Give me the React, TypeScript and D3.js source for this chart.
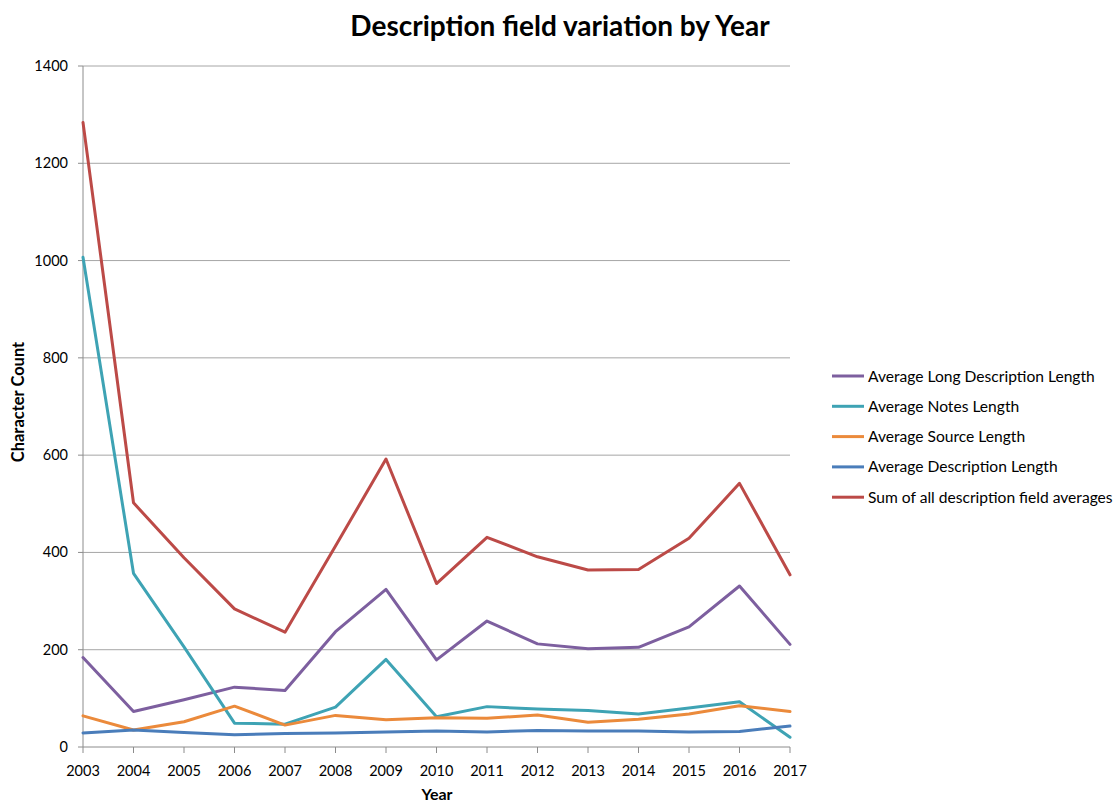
import React, { useEffect } from "react";
import * as d3 from "d3";

const years = [2003, 2004, 2005, 2006, 2007, 2008, 2009, 2010, 2011, 2012, 2013, 2014, 2015, 2016, 2017];
const longDesc = [184, 73, 97, 123, 116, 237, 324, 179, 259, 212, 202, 205, 247, 331, 211];
const notes = [1007, 357, 206, 49, 47, 82, 180, 62, 83, 78, 75, 68, 80, 93, 20];
const source = [64, 35, 52, 84, 45, 65, 56, 60, 59, 66, 51, 57, 68, 85, 73];
const description = [29, 35, 30, 25, 28, 29, 31, 33, 31, 34, 33, 33, 31, 32, 43];
const sumAll = [1284, 502, 389, 284, 236, 413, 592, 336, 431, 391, 364, 365, 429, 542, 354];
const yTicks = [0, 200, 400, 600, 800, 1000, 1200, 1400];

const seriesNames = [
  "Average Long Description Length",
  "Average Notes Length",
  "Average Source Length",
  "Average Description Length",
  "Sum of all description field averages",
];
const seriesValues = [longDesc, notes, source, description, sumAll];
const seriesColors = ["#7D5F9F", "#3EA3B4", "#EB8A3B", "#4A7DBA", "#BC4A47"];

const FONT = "Lato, 'Open Sans', sans-serif";

export default function App() {
  useEffect(() => {
    document.body.style.margin = "0";
  }, []);
  const W = 1117, H = 803;
  const x = d3.scaleLinear().domain([2003, 2017]).range([83, 790]);
  const y = d3.scaleLinear().domain([0, 1400]).range([747, 66]);
  const line = d3
    .line<number>()
    .x((_, i) => x(years[i]))
    .y((d) => y(d));

  return (
    <svg width={W} height={H} style={{ display: "block", background: "#fff" }}>
      <text x={560} y={36} textAnchor="middle" fontFamily={FONT} fontWeight="bold" fontSize={28} fill="#000">
        Description field variation by Year
      </text>
      {yTicks.map((t) => (
        <g key={t}>
          {t > 0 && <line x1={83} x2={790} y1={y(t)} y2={y(t)} stroke="#a6a6a6" strokeWidth={1} />}
          <line x1={78} x2={83} y1={y(t)} y2={y(t)} stroke="#8c8c8c" strokeWidth={1} />
          <text x={68} y={y(t) + 5} textAnchor="end" fontFamily={FONT} fontSize={14.5} fill="#000">
            {t}
          </text>
        </g>
      ))}
      <line x1={83} x2={83} y1={66} y2={747} stroke="#8c8c8c" strokeWidth={1} />
      <line x1={83} x2={790} y1={747} y2={747} stroke="#8c8c8c" strokeWidth={1} />
      {years.map((yr) => (
        <g key={yr}>
          <line x1={x(yr)} x2={x(yr)} y1={747} y2={753} stroke="#8c8c8c" strokeWidth={1} />
          <text x={x(yr)} y={776} textAnchor="middle" fontFamily={FONT} fontSize={14.5} fill="#000">
            {yr}
          </text>
        </g>
      ))}
      <text x={437} y={800} textAnchor="middle" fontFamily={FONT} fontWeight="bold" fontSize={16} fill="#000">
        Year
      </text>
      <text
        transform="translate(24,402) rotate(-90)"
        textAnchor="middle"
        fontFamily={FONT}
        fontWeight="bold"
        fontSize={16.5}
        fill="#000"
      >
        Character Count
      </text>
      {seriesValues.map((vals, i) => (
        <path
          key={i}
          d={line(vals) || ""}
          fill="none"
          stroke={seriesColors[i]}
          strokeWidth={3}
          strokeLinejoin="round"
          strokeLinecap="round"
        />
      ))}
      {seriesNames.map((name, i) => {
        const ly = 376 + i * 30.3;
        return (
          <g key={name}>
            <line x1={832} x2={864} y1={ly} y2={ly} stroke={seriesColors[i]} strokeWidth={3} />
            <text x={868} y={ly + 5.5} fontFamily={FONT} fontSize={15.6} fill="#000">
              {name}
            </text>
          </g>
        );
      })}
    </svg>
  );
}
